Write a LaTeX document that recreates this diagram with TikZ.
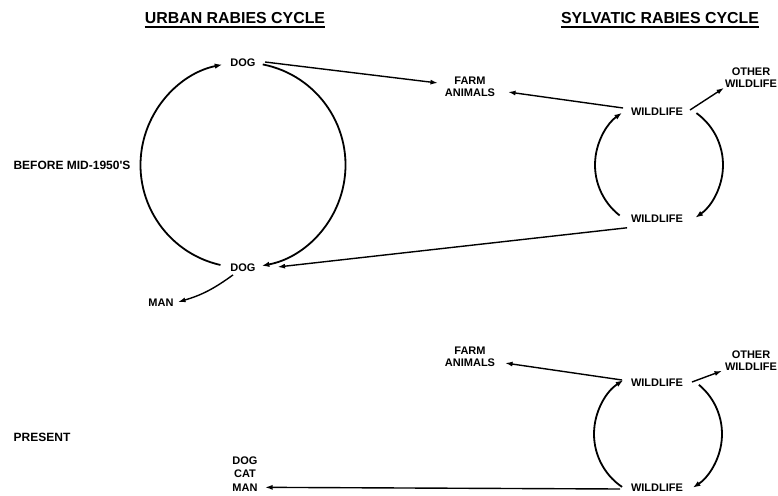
\documentclass[tikz,border=0pt]{standalone}
\usepackage{fontspec}
\setmainfont{Liberation Sans}[Ligatures=TeXOff]
\usetikzlibrary{arrows.meta,calc}
\begin{document}
\begin{tikzpicture}[x=1pt,y=-1pt,
  lbl/.style={font=\fontsize{11}{12}\selectfont\bfseries, inner sep=0pt, outer sep=0pt, align=center},
  ttl/.style={font=\fontsize{15.9}{18}\selectfont\bfseries, inner sep=0pt},
  side/.style={font=\fontsize{12}{14}\selectfont\bfseries, inner sep=0pt},
  cyc/.style={line width=1.8pt, -{Latex[length=7.5pt,width=5.5pt]}},
  arr/.style={line width=1.4pt, -{Latex[length=7.5pt,width=5pt]}},
  uline/.style={line width=1.8pt}]

\useasboundingbox (0,0) rectangle (778,495);

% ---- headings ----
\node[ttl] (urban) at (235,18) {URBAN RABIES CYCLE};
\node[ttl] (sylv)  at (660,18) {SYLVATIC RABIES CYCLE};
\draw[uline] ([yshift=-3pt]urban.south west) -- ([yshift=-3pt]urban.south east);
\draw[uline] ([yshift=-3pt]sylv.south west) -- ([yshift=-3pt]sylv.south east);

% ---- period labels ----
\node[side] (before)  at (72,165) {BEFORE MID-1950'S};
\node[side] (present) at (42,437) {PRESENT};

% ---- before mid-1950's ----
\node[lbl] (dogA)   at (243,63)  {DOG};
\node[lbl] (dogB)   at (243,268) {DOG};
\node[lbl] (man1)   at (161,303) {MAN};
\node[lbl] (farmA)  at (470,87)  {FARM\\ANIMALS};
\node[lbl] (wildA)  at (657,112) {WILDLIFE};
\node[lbl] (wildB)  at (657,219) {WILDLIFE};
\node[lbl] (otherA) at (751,78)  {OTHER\\WILDLIFE};

\coordinate (cu) at (243,165);
\coordinate (cs) at (659,165);

% urban cycle
\draw[cyc] ($(cu)+(102.7:102.5)$) arc[start angle=102.7, end angle=258.3, radius=102.5];
\draw[cyc] ($(cu)+(-78.9:102.5)$) arc[start angle=-78.9, end angle=79.4, radius=102.5];
% sylvatic cycle
\draw[cyc] ($(cs)+(127.9:64)$) arc[start angle=127.9, end angle=234.6, radius=64];
\draw[cyc] ($(cs)+(-54.2:64)$) arc[start angle=-54.2, end angle=55.3, radius=64];

\draw[arr] ([shift={(9.5,-1)}]dogA.east) -- ([shift={(-7,-4)}]farmA.west);
\draw[arr] ([shift={(-8,-4)}]wildA.west) -- ([shift={(13,5)}]farmA.east);
\draw[arr] ([shift={(7,-2)}]wildA.east) -- ([shift={(-1,0)}]otherA.south west);
\draw[arr] ([shift={(-4,5)}]wildB.south west) -- ([shift={(22,-1)}]dogB.east);
\draw[arr] ([shift={(-10,3)}]dogB.south) to[bend left=10] ([shift={(4.5,-1)}]man1.east);

% ---- present ----
\node[lbl] (farm2)  at (470,357) {FARM\\ANIMALS};
\node[lbl] (wild2a) at (657,383) {WILDLIFE};
\node[lbl] (wild2b) at (657,488) {WILDLIFE};
\node[lbl] (other2) at (751,361) {OTHER\\WILDLIFE};
\node[lbl] (dcm)    at (245,474) {DOG\\[1.5pt]CAT\\[1.5pt]MAN};

\coordinate (cp) at (658,434);
\draw[cyc] ($(cp)+(124.2:64)$) arc[start angle=124.2, end angle=237.1, radius=64];
\draw[cyc] ($(cp)+(-50.3:64)$) arc[start angle=-50.3, end angle=57, radius=64];

\draw[arr] ([shift={(-9,-3)}]wild2a.west) -- ([shift={(10,6)}]farm2.east);
\draw[arr] ([shift={(9,-1)}]wild2a.east) -- ([shift={(-3,0)}]other2.south west);
\draw[arr] ([shift={(-11,1)}]wild2b.west) -- ([shift={(7.5,-4)}]dcm.south east);

\end{tikzpicture}
\end{document}
